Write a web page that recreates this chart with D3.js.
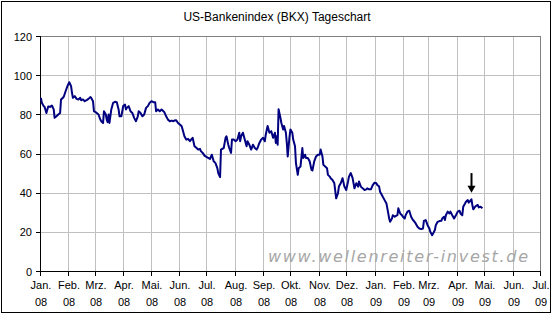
<!DOCTYPE html>
<html>
<head>
<meta charset="utf-8">
<script src="https://cdn.jsdelivr.net/npm/d3@7"></script>
<style>
  html, body { margin: 0; padding: 0; background: #fff; }
  svg { display: block; font-family: Arial, 'Liberation Sans', sans-serif; }
</style>
</head>
<body>
<div id="chart"></div>
<script>
const title = 'US-Bankenindex (BKX) Tageschart';
const watermark = 'www.wellenreiter-invest.de';
const monthNames = ['Jan.', 'Feb.', 'Mrz.', 'Apr.', 'Mai.', 'Jun.', 'Jul.', 'Aug.', 'Sep.', 'Okt.', 'Nov.', 'Dez.'];
const yTicks = [0, 20, 40, 60, 80, 100, 120];

// BKX daily closes
const dates = [
  '2008-01-02','2008-01-03','2008-01-05','2008-01-06','2008-01-08','2008-01-10','2008-01-12','2008-01-14','2008-01-16','2008-01-17',
  '2008-01-19','2008-01-21','2008-01-23','2008-01-24','2008-01-26','2008-01-27','2008-01-29','2008-01-31','2008-02-02','2008-02-04',
  '2008-02-05','2008-02-06','2008-02-08','2008-02-10','2008-02-12','2008-02-14','2008-02-15','2008-02-17','2008-02-19','2008-02-21',
  '2008-02-23','2008-02-25','2008-02-26','2008-02-28','2008-02-29','2008-03-03','2008-03-05','2008-03-07','2008-03-08','2008-03-10',
  '2008-03-11','2008-03-13','2008-03-14','2008-03-15','2008-03-16','2008-03-17','2008-03-19','2008-03-21','2008-03-23','2008-03-25',
  '2008-03-27','2008-03-28','2008-03-30','2008-04-01','2008-04-03','2008-04-04','2008-04-05','2008-04-07','2008-04-09','2008-04-11',
  '2008-04-13','2008-04-15','2008-04-17','2008-04-18','2008-04-20','2008-04-22','2008-04-24','2008-04-26','2008-04-28','2008-04-30',
  '2008-05-02','2008-05-04','2008-05-06','2008-05-07','2008-05-09','2008-05-11','2008-05-13','2008-05-15','2008-05-16','2008-05-18',
  '2008-05-20','2008-05-22','2008-05-24','2008-05-26','2008-05-27','2008-05-29','2008-05-31','2008-06-02','2008-06-04','2008-06-05',
  '2008-06-07','2008-06-09','2008-06-11','2008-06-13','2008-06-15','2008-06-16','2008-06-18','2008-06-20','2008-06-22','2008-06-24',
  '2008-06-25','2008-06-27','2008-06-29','2008-07-01','2008-07-03','2008-07-05','2008-07-07','2008-07-09','2008-07-11','2008-07-13',
  '2008-07-14','2008-07-16','2008-07-17','2008-07-18','2008-07-20','2008-07-22','2008-07-23','2008-07-25','2008-07-26','2008-07-28',
  '2008-07-29','2008-07-31','2008-08-02','2008-08-04','2008-08-06','2008-08-07','2008-08-08','2008-08-10','2008-08-12','2008-08-14',
  '2008-08-15','2008-08-17','2008-08-19','2008-08-21','2008-08-23','2008-08-25','2008-08-26','2008-08-28','2008-08-30','2008-09-01',
  '2008-09-03','2008-09-04','2008-09-06','2008-09-08','2008-09-10','2008-09-12','2008-09-14','2008-09-15','2008-09-16','2008-09-17',
  '2008-09-18','2008-09-20','2008-09-21','2008-09-23','2008-09-24','2008-09-26','2008-09-27','2008-09-28','2008-09-30','2008-10-01',
  '2008-10-03','2008-10-04','2008-10-06','2008-10-07','2008-10-09','2008-10-10','2008-10-12','2008-10-14','2008-10-15','2008-10-17',
  '2008-10-18','2008-10-20','2008-10-22','2008-10-24','2008-10-25','2008-10-27','2008-10-29','2008-10-31','2008-11-02','2008-11-03',
  '2008-11-05','2008-11-06','2008-11-08','2008-11-10','2008-11-11','2008-11-13','2008-11-14','2008-11-16','2008-11-18','2008-11-20',
  '2008-11-22','2008-11-23','2008-11-25','2008-11-27','2008-11-29','2008-12-01','2008-12-03','2008-12-04','2008-12-06','2008-12-08',
  '2008-12-10','2008-12-12','2008-12-14','2008-12-15','2008-12-17','2008-12-19','2008-12-21','2008-12-23','2008-12-24','2008-12-26',
  '2008-12-28','2008-12-30','2009-01-01','2009-01-03','2009-01-04','2009-01-06','2009-01-07','2009-01-09','2009-01-10','2009-01-12',
  '2009-01-14','2009-01-15','2009-01-16','2009-01-17','2009-01-18','2009-01-20','2009-01-21','2009-01-23','2009-01-24','2009-01-26',
  '2009-01-27','2009-01-29','2009-01-31','2009-02-01','2009-02-03','2009-02-04','2009-02-06','2009-02-08','2009-02-10','2009-02-12',
  '2009-02-13','2009-02-15','2009-02-17','2009-02-19','2009-02-21','2009-02-23','2009-02-24','2009-02-26','2009-02-28','2009-03-02',
  '2009-03-03','2009-03-05','2009-03-06','2009-03-08','2009-03-09','2009-03-11','2009-03-13','2009-03-15','2009-03-16','2009-03-18',
  '2009-03-19','2009-03-20','2009-03-22','2009-03-24','2009-03-25','2009-03-27','2009-03-29','2009-03-31','2009-04-02','2009-04-04',
  '2009-04-05','2009-04-07','2009-04-08','2009-04-10','2009-04-11','2009-04-13','2009-04-14','2009-04-15','2009-04-17','2009-04-18',
  '2009-04-19','2009-04-21','2009-04-22','2009-04-24','2009-04-25','2009-04-27','2009-04-29'
];
const values = [
  88.4, 85.9, 84.2, 83.8, 80.7, 84.0, 83.8, 84.5, 82.5, 78.2,
  79.0, 79.9, 80.7, 87.6, 88.4, 89.0, 91.8, 94.4, 96.4, 94.4,
  91.0, 88.4, 89.3, 87.9, 87.6, 88.4, 87.2, 87.6, 86.7, 87.2,
  87.9, 88.8, 88.4, 86.7, 81.6, 80.7, 79.9, 77.3, 76.5, 75.6,
  81.6, 79.9, 77.3, 76.0, 79.9, 75.6, 82.5, 85.9, 86.4, 86.2,
  82.5, 79.0, 79.0, 84.2, 85.0, 82.5, 83.3, 84.2, 81.6, 80.7,
  78.2, 76.5, 79.0, 81.6, 80.7, 79.0, 79.9, 83.3, 84.2, 85.9,
  86.7, 86.2, 86.2, 81.6, 82.5, 81.6, 82.5, 81.6, 81.1, 79.0,
  77.3, 76.5, 76.8, 76.5, 76.8, 77.0, 75.6, 74.8, 73.9, 72.2,
  68.8, 67.1, 67.5, 66.3, 67.5, 68.0, 63.7, 62.9, 62.0, 62.4,
  61.2, 60.3, 58.9, 58.3, 57.8, 57.2, 59.4, 56.0, 55.1, 52.5,
  50.0, 47.9, 62.0, 62.3, 62.8, 68.0, 68.8, 64.5, 62.8, 60.3,
  67.1, 67.1, 66.3, 67.1, 70.6, 66.3, 68.8, 70.6, 67.1, 63.7,
  66.3, 64.5, 62.0, 64.5, 62.8, 62.0, 62.8, 65.4, 67.1, 68.0,
  66.3, 69.7, 74.0, 70.6, 71.4, 68.0, 70.6, 65.4, 68.8, 64.5,
  82.6, 78.3, 75.7, 72.3, 74.0, 70.6, 65.4, 58.5, 68.8, 72.3,
  70.6, 67.1, 63.7, 55.1, 49.1, 52.5, 53.4, 62.8, 57.7, 59.4,
  57.7, 57.7, 56.0, 51.7, 51.3, 56.0, 58.5, 59.4, 59.4, 62.0,
  58.5, 54.2, 53.4, 52.5, 49.1, 48.2, 47.4, 46.5, 44.8, 37.1,
  39.7, 43.1, 44.8, 47.4, 43.1, 41.4, 45.7, 48.2, 50.0, 47.4,
  42.2, 44.8, 43.1, 45.7, 43.1, 42.2, 41.4, 41.7, 42.2, 41.7,
  41.7, 43.9, 45.1, 44.8, 43.9, 43.1, 40.5, 38.8, 37.9, 36.2,
  34.5, 32.0, 29.4, 26.8, 25.1, 26.8, 28.5, 27.7, 28.0, 28.5,
  32.0, 29.4, 28.5, 27.7, 26.8, 28.5, 30.3, 30.8, 27.7, 26.0,
  25.6, 24.3, 22.6, 21.7, 21.4, 21.7, 25.6, 26.0, 23.4, 21.7,
  20.0, 18.3, 19.1, 20.9, 23.4, 25.1, 25.5, 25.6, 26.8, 27.7,
  26.0, 28.5, 30.3, 29.4, 30.3, 28.5, 26.8, 28.5, 30.3, 30.8,
  29.4, 28.5, 32.8, 34.5, 35.4, 36.2, 34.9, 35.4, 36.6, 33.7,
  31.5, 32.8, 33.2, 33.7, 32.5, 32.8, 32.0
];

// arrow annotation: date and value span
const arrowDate = '2009-04-16';
const arrowFrom = 50, arrowTo = 40;

const width = 554, height = 315;
const parse = d3.timeParse('%Y-%m-%d');
const data = dates.map((d, i) => ({ date: parse(d), value: values[i] }));

const x = d3.scaleTime()
  .domain([new Date(2008, 0, 1), new Date(2009, 6, 1)])
  .range([40, 540]);
const y = d3.scaleLinear()
  .domain([0, 120])
  .range([271, 36]);
const months = x.ticks(d3.timeMonth.every(1));

const svg = d3.select('#chart').append('svg')
  .attr('width', width)
  .attr('height', height);

svg.append('rect')
  .attr('width', width).attr('height', height)
  .attr('fill', '#fff');

// -- chart border
svg.append('rect')
  .attr('x', 1.5).attr('y', 1.5)
  .attr('width', 549).attr('height', 311)
  .attr('fill', 'none')
  .attr('stroke', '#000');

svg.append('text')
  .attr('x', 277).attr('y', 21)
  .attr('text-anchor', 'middle')
  .attr('font-size', 12)
  .attr('fill', '#000')
  .text(title);

// -- grid
const grid = svg.append('g').attr('stroke', '#c0c0c0').attr('shape-rendering', 'crispEdges');
grid.selectAll('.gx')
  .data(months.slice(1, -1))
  .join('line')
  .attr('x1', d => Math.round(x(d)) + 0.5).attr('x2', d => Math.round(x(d)) + 0.5)
  .attr('y1', y(120)).attr('y2', y(0));
grid.selectAll('.gy')
  .data(yTicks.slice(1, -1))
  .join('line')
  .attr('x1', x.range()[0]).attr('x2', x.range()[1])
  .attr('y1', d => y(d) + 0.5).attr('y2', d => y(d) + 0.5);

svg.append('rect')
  .attr('x', x.range()[0] + 0.5).attr('y', y(120) + 0.5)
  .attr('width', x.range()[1] - x.range()[0]).attr('height', y(0) - y(120))
  .attr('fill', 'none')
  .attr('stroke', '#808080')
  .attr('shape-rendering', 'crispEdges');

// -- watermark
svg.append('text')
  .attr('x', 268).attr('y', 262)
  .attr('font-family', "'DejaVu Sans', Verdana, sans-serif")
  .attr('font-size', 16)
  .attr('font-style', 'italic')
  .attr('fill', '#a6a6a6')
  .attr('textLength', 260)
  .attr('lengthAdjust', 'spacing')
  .text(watermark);

// -- axes
const axes = svg.append('g').attr('stroke', '#000').attr('shape-rendering', 'crispEdges');
axes.append('line')
  .attr('x1', x.range()[0] + 0.5).attr('x2', x.range()[0] + 0.5)
  .attr('y1', y(120)).attr('y2', y(0) + 1);
axes.append('line')
  .attr('x1', x.range()[0]).attr('x2', x.range()[1] + 1)
  .attr('y1', y(0) + 0.5).attr('y2', y(0) + 0.5);
axes.selectAll('.ty')
  .data(yTicks)
  .join('line')
  .attr('x1', 36).attr('x2', x.range()[0])
  .attr('y1', d => y(d) + 0.5).attr('y2', d => y(d) + 0.5);
axes.selectAll('.tx')
  .data(months)
  .join('line')
  .attr('x1', d => Math.round(x(d)) + 0.5).attr('x2', d => Math.round(x(d)) + 0.5)
  .attr('y1', y(0)).attr('y2', y(0) + 5);

svg.append('g')
  .attr('font-size', 11)
  .attr('text-anchor', 'end')
  .selectAll('text')
  .data(yTicks)
  .join('text')
  .attr('x', 32)
  .attr('y', d => y(d) + 4.5)
  .text(d => d);

const xl = svg.append('g')
  .attr('font-size', 11)
  .attr('text-anchor', 'middle')
  .selectAll('text')
  .data(months)
  .join('text')
  .attr('x', d => Math.round(x(d)) + 1);
xl.append('tspan').attr('y', 288.5).attr('x', d => Math.round(x(d)) + 1).text(d => monthNames[d.getMonth()]);
xl.append('tspan').attr('y', 306).attr('x', d => Math.round(x(d)) + 1).text(d => d3.timeFormat('%y')(d));

// -- index line
svg.append('path')
  .datum(data)
  .attr('fill', 'none')
  .attr('stroke', '#000080')
  .attr('stroke-width', 2)
  .attr('stroke-linejoin', 'round')
  .attr('d', d3.line().x(d => x(d.date)).y(d => y(d.value)));

// -- arrow
const ax = Math.round(x(parse(arrowDate))) + 0.5;
svg.append('line')
  .attr('x1', ax).attr('x2', ax)
  .attr('y1', y(arrowFrom)).attr('y2', y(arrowTo) - 6)
  .attr('stroke', '#000')
  .attr('stroke-width', 2);
svg.append('path')
  .attr('d', `M${ax - 4},${y(arrowTo) - 7}L${ax + 4},${y(arrowTo) - 7}L${ax},${y(arrowTo)}Z`)
  .attr('fill', '#000');
</script>
</body>
</html>
